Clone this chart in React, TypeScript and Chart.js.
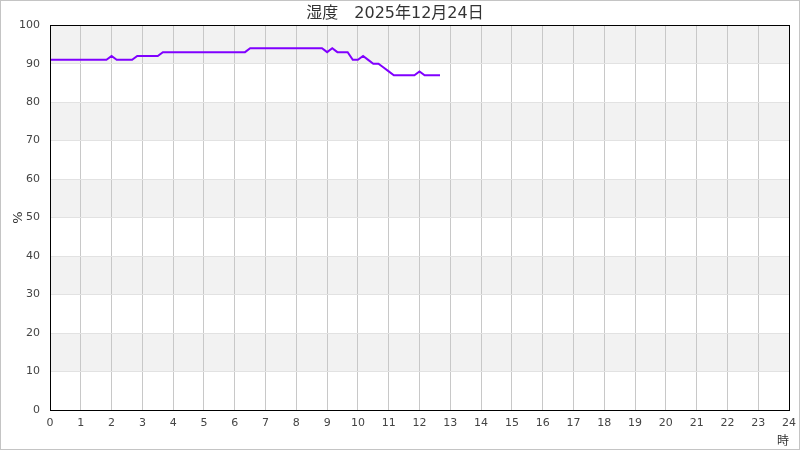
import React, { useEffect, useRef } from "react";
import { Chart, registerables } from "chart.js";

Chart.register(...registerables);

const TITLE = "湿度　2025年12月24日";
const Y_TITLE = "%";
const X_TITLE = "時";

const times: string[] = [
  "0:00", "0:10", "0:20", "0:30", "0:40", "0:50",
  "1:00", "1:10", "1:20", "1:30", "1:40", "1:50",
  "2:00", "2:10", "2:20", "2:30", "2:40", "2:50",
  "3:00", "3:10", "3:20", "3:30", "3:40", "3:50",
  "4:00", "4:10", "4:20", "4:30", "4:40", "4:50",
  "5:00", "5:10", "5:20", "5:30", "5:40", "5:50",
  "6:00", "6:10", "6:20", "6:30", "6:40", "6:50",
  "7:00", "7:10", "7:20", "7:30", "7:40", "7:50",
  "8:00", "8:10", "8:20", "8:30", "8:40", "8:50",
  "9:00", "9:10", "9:20", "9:30", "9:40", "9:50",
  "10:00", "10:10", "10:20", "10:30", "10:40", "10:50",
  "11:00", "11:10", "11:20", "11:30", "11:40", "11:50",
  "12:00", "12:10", "12:20", "12:30", "12:40",
];

const humidity: number[] = [
  91, 91, 91, 91, 91, 91,
  91, 91, 91, 91, 91, 91,
  92, 91, 91, 91, 91, 92,
  92, 92, 92, 92, 93, 93,
  93, 93, 93, 93, 93, 93,
  93, 93, 93, 93, 93, 93,
  93, 93, 93, 94, 94, 94,
  94, 94, 94, 94, 94, 94,
  94, 94, 94, 94, 94, 94,
  93, 94, 93, 93, 93, 91,
  91, 92, 91, 90, 90, 89,
  88, 87, 87, 87, 87, 87,
  88, 87, 87, 87, 87,
];

const X_MIN = 0;
const X_MAX = 24;
const Y_MIN = 0;
const Y_MAX = 100;

function toHours(t: string): number {
  const [h, m] = t.split(":").map(Number);
  return h + m / 60;
}

const bandsPlugin = {
  id: "bands",
  beforeDraw(chart: any) {
    const { ctx, chartArea, scales } = chart;
    const y = scales.y;
    ctx.save();
    ctx.fillStyle = "#ffffff";
    ctx.fillRect(0, 0, chart.width, chart.height);
    ctx.fillStyle = "#f2f2f2";
    for (let v = Y_MIN + 10; v < Y_MAX; v += 20) {
      const top = y.getPixelForValue(v + 10);
      const bottom = y.getPixelForValue(v);
      ctx.fillRect(chartArea.left, top, chartArea.right - chartArea.left, bottom - top);
    }
    ctx.restore();
  },
  afterDatasetsDraw(chart: any) {
    const { ctx, chartArea } = chart;
    ctx.save();
    ctx.strokeStyle = "#000000";
    ctx.lineWidth = 1;
    ctx.strokeRect(
      Math.round(chartArea.left) + 0.5,
      Math.round(chartArea.top) + 0.5,
      Math.round(chartArea.right - chartArea.left),
      Math.round(chartArea.bottom - chartArea.top)
    );
    ctx.restore();
  },
};

export default function App() {
  const ref = useRef<HTMLCanvasElement>(null);

  useEffect(() => {
    document.body.style.margin = "0";
    const canvas = ref.current;
    if (!canvas) return;
    const data = times.map((t, i) => ({ x: toHours(t), y: humidity[i] }));
    const tickFont = { family: "'DejaVu Sans', sans-serif", size: 11 };
    const chart = new Chart(canvas, {
      type: "line",
      data: {
        datasets: [
          {
            data,
            borderColor: "#8000ff",
            backgroundColor: "#8000ff",
            borderWidth: 2,
            pointRadius: 0,
            pointHoverRadius: 0,
            tension: 0,
            fill: false,
          },
        ],
      },
      options: {
        animation: false,
        responsive: false,
        layout: { padding: { left: 0, right: 10, top: 0, bottom: 0 } },
        plugins: {
          legend: { display: false },
          tooltip: { enabled: false },
          title: {
            display: true,
            text: TITLE,
            color: "#333333",
            font: { family: "'DejaVu Sans', 'Noto Sans CJK JP', sans-serif", size: 16, weight: "normal" },
            padding: { top: 3, bottom: 2 },
          },
        },
        scales: {
          x: {
            type: "linear",
            min: X_MIN,
            max: X_MAX,
            afterFit(scale: any) {
              scale.height = 39;
              scale.paddingLeft = 0;
              scale.paddingRight = 0;
            },
            ticks: {
              stepSize: 1,
              color: "#444444",
              font: tickFont,
              padding: 7,
              maxRotation: 0,
              autoSkip: false,
            },
            grid: { color: "#c8c8c8", drawTicks: false },
            border: { display: false },
            title: {
              display: true,
              text: X_TITLE,
              align: "end",
              color: "#333333",
              font: { family: "'Noto Sans CJK JP', sans-serif", size: 12 },
              padding: { top: 0, bottom: 1 },
            },
          },
          y: {
            min: Y_MIN,
            max: Y_MAX,
            afterFit(scale: any) {
              scale.width = 49;
              scale.paddingTop = 0;
              scale.paddingBottom = 0;
            },
            ticks: {
              stepSize: 10,
              color: "#444444",
              font: tickFont,
              padding: 10,
            },
            grid: { color: "#e2e2e2", drawTicks: false },
            border: { display: false },
            title: {
              display: true,
              text: Y_TITLE,
              color: "#333333",
              font: { family: "'DejaVu Sans', sans-serif", size: 13 },
              padding: { top: 10, bottom: 0 },
            },
          },
        },
      },
      plugins: [bandsPlugin],
    });
    return () => chart.destroy();
  }, []);

  return (
    <div
      style={{
        position: "absolute",
        left: 0,
        top: 0,
        width: 800,
        height: 450,
        boxSizing: "border-box",
        border: "1px solid #c4c4c4",
        background: "#fff",
      }}
    >
      <canvas ref={ref} width={798} height={448} style={{ display: "block" }} />
    </div>
  );
}
